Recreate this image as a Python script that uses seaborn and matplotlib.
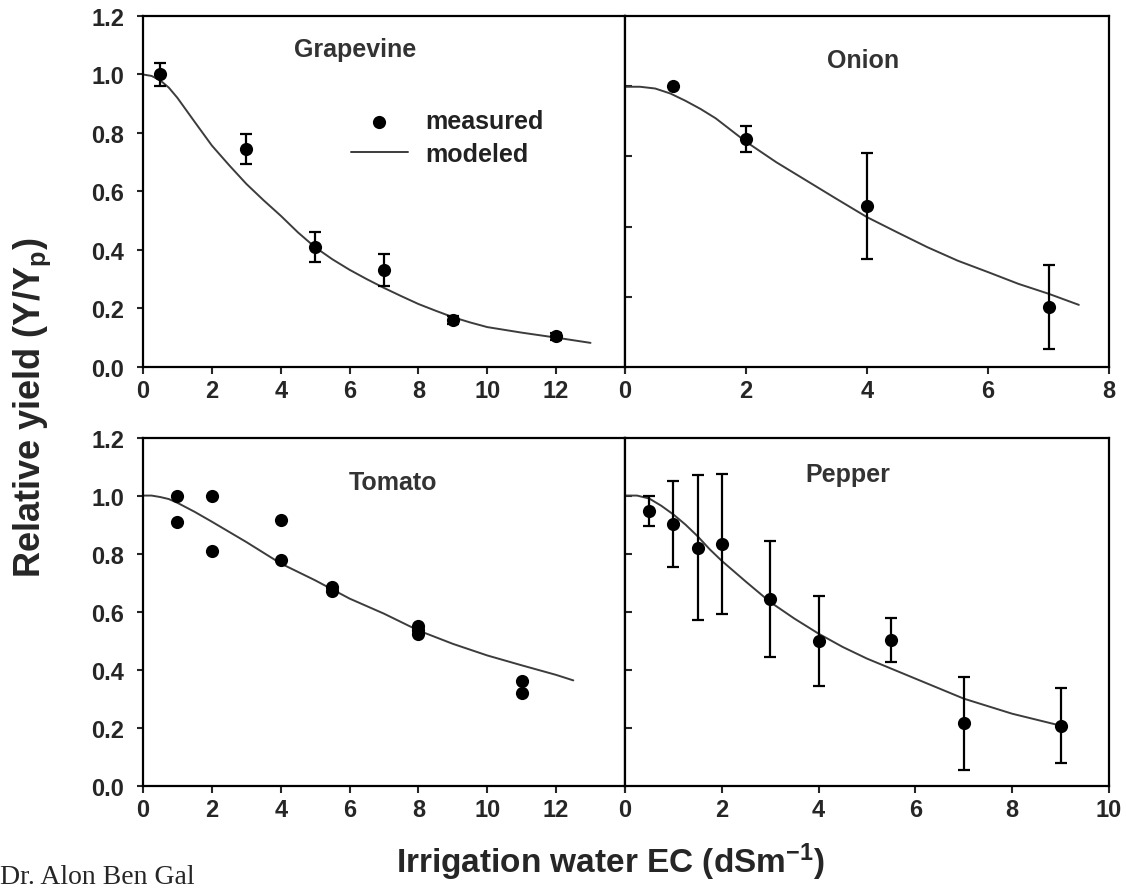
import numpy as np
import matplotlib
matplotlib.use("Agg")
import matplotlib.pyplot as plt
import seaborn as sns

sns.set_style("ticks")
plt.rcParams["font.family"] = ["Liberation Sans", "DejaVu Sans"]
plt.rcParams["mathtext.default"] = "regular"

# ---- data (x = irrigation water EC, y = relative yield) ----
grape_x = [0.5, 3, 5, 7, 9, 12]
grape_y = [1.00, 0.745, 0.41, 0.33, 0.16, 0.105]
grape_err = [0.04, 0.05, 0.05, 0.055, 0.015, 0.012]
grape_model_x = [0, 0.25, 0.5, 0.75, 1, 1.5, 2, 2.5, 3, 3.5, 4, 4.5, 5, 5.5, 6,
                 6.5, 7, 7.5, 8, 8.5, 9, 9.5, 10, 11, 12, 13]
grape_model_y = [1.0, 0.995, 0.98, 0.955, 0.92, 0.838, 0.757, 0.69, 0.626, 0.57,
                 0.517, 0.46, 0.409, 0.368, 0.332, 0.3, 0.27, 0.242, 0.215, 0.192,
                 0.17, 0.152, 0.136, 0.117, 0.1, 0.082]

onion_x = [0.8, 2, 4, 7]
onion_y = [0.96, 0.78, 0.55, 0.205]
onion_err = [np.nan, 0.045, 0.18, 0.145]
onion_model_x = [0, 0.25, 0.5, 0.75, 1, 1.25, 1.5, 1.75, 2, 2.5, 3, 3.5, 4, 4.5,
                 5, 5.5, 6, 6.5, 7, 7.5]
onion_model_y = [0.958, 0.958, 0.952, 0.935, 0.91, 0.882, 0.85, 0.81, 0.77, 0.70,
                 0.637, 0.574, 0.512, 0.46, 0.409, 0.363, 0.324, 0.284, 0.25, 0.212]

tomato_x = [1, 1, 2, 2, 4, 4, 5.5, 5.5, 8, 8, 8, 11, 11]
tomato_y = [1.0, 0.91, 1.0, 0.81, 0.915, 0.777, 0.685, 0.67, 0.55, 0.535, 0.522, 0.36, 0.318]
tomato_err = [np.nan] * len(tomato_x)
tomato_model_x = [0, 0.25, 0.5, 0.75, 1, 1.5, 2, 2.5, 3, 4, 5, 6, 7, 8, 9, 10,
                  11, 12, 12.5]
tomato_model_y = [1.0, 1.0, 0.995, 0.988, 0.975, 0.944, 0.91, 0.875, 0.84, 0.766,
                  0.708, 0.645, 0.593, 0.535, 0.489, 0.449, 0.415, 0.382, 0.363]

pepper_x = [0.5, 1, 1.5, 2, 3, 4, 5.5, 7, 9]
pepper_y = [0.947, 0.902, 0.82, 0.833, 0.643, 0.499, 0.501, 0.215, 0.207]
pepper_err = [0.053, 0.148, 0.25, 0.24, 0.20, 0.155, 0.076, 0.16, 0.13]
pepper_model_x = [0, 0.25, 0.5, 0.75, 1, 1.25, 1.5, 1.75, 2, 2.5, 3, 3.5, 4, 4.5,
                  5, 6, 7, 8, 9]
pepper_model_y = [1.0, 1.0, 0.99, 0.965, 0.935, 0.9, 0.86, 0.815, 0.775, 0.703,
                  0.633, 0.576, 0.524, 0.478, 0.438, 0.369, 0.30, 0.248, 0.207]

TICK_FONT = dict(family=["Liberation Sans"], weight="bold", size=17)

panels = [
    dict(rect=[0.127, 0.589, 0.428, 0.392], title="Grapevine", tpos=(0.44, 0.885),
         data=(grape_x, grape_y, grape_err, grape_model_x, grape_model_y), xmax=14, left=True),
    dict(rect=[0.555, 0.589, 0.430, 0.392], title="Onion", tpos=(0.492, 0.854),
         data=(onion_x, onion_y, onion_err, onion_model_x, onion_model_y), xmax=8, left=False),
    dict(rect=[0.127, 0.121, 0.428, 0.389], title="Tomato", tpos=(0.519, 0.852),
         data=(tomato_x, tomato_y, tomato_err, tomato_model_x, tomato_model_y), xmax=14, left=True),
    dict(rect=[0.555, 0.121, 0.430, 0.389], title="Pepper", tpos=(0.461, 0.874),
         data=(pepper_x, pepper_y, pepper_err, pepper_model_x, pepper_model_y), xmax=10, left=False),
]

fig = plt.figure(figsize=(11.26, 8.95), dpi=100)

for i, p in enumerate(panels):
    ax = fig.add_axes(p["rect"])
    mx, my, merr, cx, cy = p["data"]

    sns.lineplot(x=cx, y=cy, ax=ax, color="#3c3c3c", linewidth=1.4,
                 label="modeled", zorder=2)
    mask = ~np.isnan(np.array(merr, dtype=float))
    if mask.any():
        ax.errorbar(np.array(mx)[mask], np.array(my)[mask], yerr=np.array(merr)[mask],
                    fmt="none", ecolor="black", elinewidth=1.6, capsize=4,
                    capthick=1.6, zorder=3)
    sns.scatterplot(x=mx, y=my, ax=ax, color="black", s=90, edgecolor="black",
                    linewidth=0, label="measured", zorder=4)

    ax.set_xlim(0, p["xmax"])
    ax.set_ylim(0, 1.2)
    xt = np.arange(0, p["xmax"] + 1, 2)
    ax.set_xticks(xt)
    if p["left"]:
        ax.set_xticklabels([str(v) if v < 14 else "" for v in xt], fontdict=TICK_FONT)
        ax.set_yticks(np.arange(0, 1.21, 0.2))
        ax.set_yticklabels([f"{v:.1f}" for v in np.arange(0, 1.21, 0.2)], fontdict=TICK_FONT)
        ax.tick_params(axis="y", direction="out", length=4.5, width=1.5, pad=9)
    else:
        ax.set_xticklabels([str(v) for v in xt], fontdict=TICK_FONT)
        if i == 1:
            ax.set_yticks([0.24, 0.48, 0.72, 0.96])
        else:
            ax.set_yticks(np.arange(0.2, 1.01, 0.2))
        ax.tick_params(axis="y", direction="in", length=5, width=1.5, labelleft=False)
    ax.tick_params(axis="x", direction="out", length=5, width=1.5, pad=4)

    for s in ax.spines.values():
        s.set_visible(True)
        s.set_linewidth(1.6)
        s.set_color("black")
    ax.set_xlabel("")
    ax.set_ylabel("")

    ax.text(p["tpos"][0], p["tpos"][1], p["title"], transform=ax.transAxes,
            ha="center", va="baseline", fontsize=18, fontweight="bold", color="#333333")

    if i == 0:
        handles, labels = ax.get_legend_handles_labels()
        order = [labels.index("measured"), labels.index("modeled")]
        ax.legend([handles[k] for k in order], [labels[k] for k in order],
                  loc="upper left", bbox_to_anchor=(0.405, 0.77), frameon=False,
                  borderpad=0, handlelength=2.3, handletextpad=0.7, labelspacing=0.35,
                  prop=dict(weight="bold", size=18), labelcolor="#222222")
    else:
        leg = ax.get_legend()
        if leg is not None:
            leg.remove()

fig.text(0.029, 0.544, "Relative yield (Y/Y$_p$)", rotation=90, ha="center", va="center",
         fontsize=26, fontweight="bold")
fig.text(0.542, 0.037, "Irrigation water EC (dSm$^{-1}$)", ha="center", va="center",
         fontsize=24, fontweight="bold")
fig.text(0.0, 0.012, "Dr. Alon Ben Gal", ha="left", va="baseline",
         fontsize=20, family=["Liberation Serif", "DejaVu Serif"])

fig.savefig("out.png", dpi=100)
